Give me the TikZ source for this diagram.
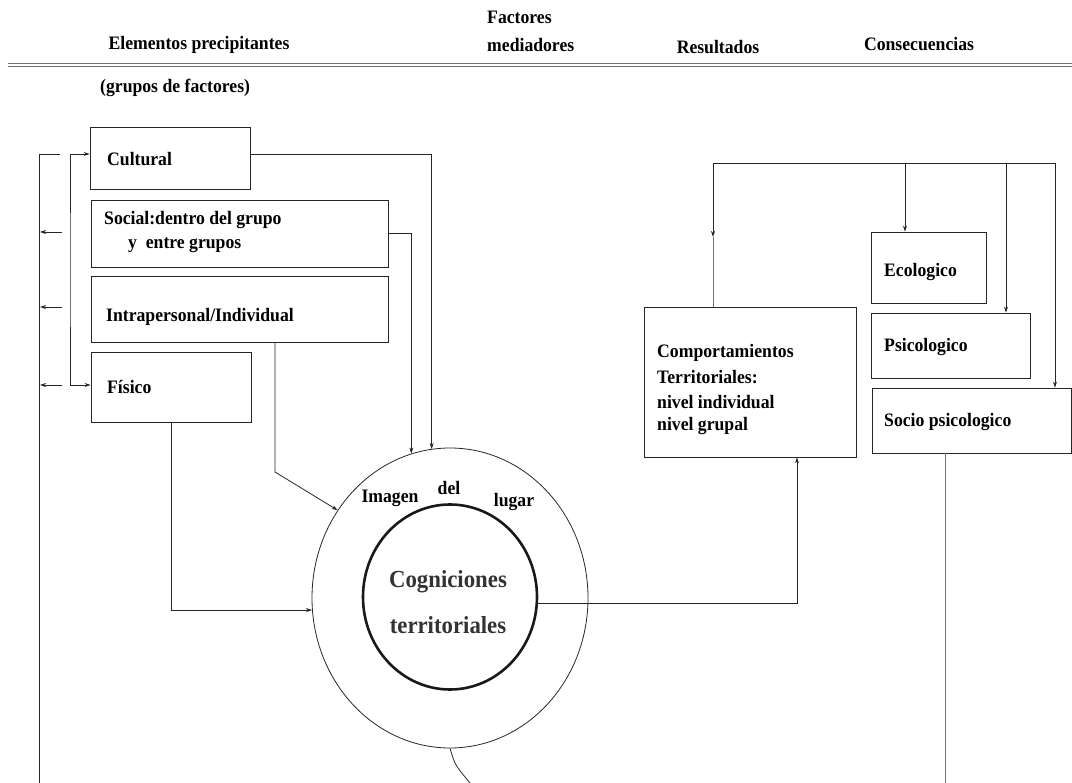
\documentclass[tikz,border=0pt]{standalone}
\usepackage{fontspec}
\setmainfont{Liberation Serif}[FakeStretch=0.93]
\usetikzlibrary{shapes.geometric,arrows.meta}
\begin{document}
\begin{tikzpicture}[x=1pt,y=-1pt,
  txt/.style={inner sep=0pt,font=\fontsize{19}{22}\selectfont\bfseries},
  big/.style={inner sep=0pt,text=black!80,font=\fontsize{24.5}{28}\selectfont\bfseries},
  box/.style={draw=black!85,line width=0.8pt,rectangle,inner sep=0pt},
  conn/.style={draw=black!85,line width=0.8pt},
  arr/.style={conn,-{Stealth[length=6pt,width=4pt]}},
  faint/.style={draw=black!55,line width=0.8pt}]
\useasboundingbox (0,0) rectangle (1072,783);
% header
\node[txt] (h1) at (199,45) {Elementos precipitantes};
\node[txt,anchor=west] (h2a) at (487,17) {Factores};
\node[txt,anchor=west] (h2b) at (487,45) {mediadores};
\node[txt] (h3) at (718,47) {Resultados};
\node[txt] (h4) at (919,44) {Consecuencias};
\coordinate (r1a) at (8,63.5); \coordinate (r1b) at (1072,63.5);
\coordinate (r2a) at (8,66.5); \coordinate (r2b) at (1072,66.5);
\draw[faint] (r1a) -- (r1b);
\draw[faint] (r2a) -- (r2b);
\node[txt,anchor=west] (h5) at (100,88) {(grupos de factores)};
% left boxes
\node[box,minimum width=160pt,minimum height=62pt] (cult) at (170,158) {};
\node[box,minimum width=297pt,minimum height=67pt] (soc) at (239.5,233.5) {};
\node[box,minimum width=297pt,minimum height=66pt] (intra) at (239.5,309) {};
\node[box,minimum width=160pt,minimum height=70pt] (fis) at (171,387) {};
\node[txt,anchor=west] (tcult) at (107,159) {Cultural};
\node[txt,anchor=west] (tsoc1) at (104,220) {Social:dentro del grupo};
\node[txt,anchor=west] (tsoc2) at (128,245) {y\ \ entre grupos};
\node[txt,anchor=west] (tintra) at (106,317) {Intrapersonal/Individual};
\node[txt,anchor=west] (tfis) at (107,387) {Físico};
% right boxes
\node[box,minimum width=212pt,minimum height=150pt] (comp) at (750,382) {};
\node[txt,anchor=west] (tc1) at (657,353) {Comportamientos};
\node[txt,anchor=west] (tc2) at (657,377) {Territoriales:};
\node[txt,anchor=west] (tc3) at (657,402) {nivel individual};
\node[txt,anchor=west] (tc4) at (657,426) {nivel grupal};
\node[box,minimum width=115pt,minimum height=71pt] (eco) at (928.5,267.5) {};
\node[box,minimum width=159pt,minimum height=65pt] (psi) at (950.5,345.5) {};
\node[box,minimum width=199pt,minimum height=65pt] (socio) at (971.5,420.5) {};
\node[txt,anchor=west] (teco) at (884,272) {Ecologico};
\node[txt,anchor=west] (tpsi) at (884,347) {Psicologico};
\node[txt,anchor=west] (tsocio) at (884,422) {Socio psicologico};
% circles
\node[ellipse,draw=black!85,line width=0.8pt,minimum width=276pt,minimum height=300pt,inner sep=0pt] (outer) at (450,598) {};
\node[ellipse,draw=black!90,line width=2.6pt,minimum width=174pt,minimum height=185pt,inner sep=0pt] (inner) at (450,597) {};
\node[big] (cg1) at (448,582) {Cogniciones};
\node[big] (cg2) at (448,625) {territoriales};
\node[txt] (im1) at (390,498) {Imagen};
\node[txt] (im2) at (449,488) {del};
\node[txt] (im3) at (514,502) {lugar};
% left feedback lines
\coordinate (ot) at (60,154);
\coordinate (oc) at (39,154);
\coordinate (ob) at (39,783);
\draw[conn] (ot) -- (oc) -- (ob);
\foreach \y/\n in {232/a,307/b,385/c}{
  \coordinate (s\n) at (62,\y);
  \coordinate (e\n) at (40,\y);
  \draw[arr] (s\n) -- (e\n);
}
\coordinate (ic) at (70,270);
\draw[conn,{Stealth[length=6pt,width=4pt]}-{Stealth[length=6pt,width=4pt]}] ([yshift=4pt]cult.west) -| (ic) |- ([yshift=2pt]fis.west);
% connectors to circle
\draw[arr] ([yshift=4pt]cult.east) -| (outer.97.7);
\draw[arr] (soc.east) -| (outer.105.6);
\coordinate (ik) at (275,472);
\draw[arr] ([xshift=35.5pt]intra.south) -- (ik) -- (outer.142);
\draw[arr] (fis.south) |- (outer.185.4);
% circle to comportamientos
\draw[arr] (inner.356) -| ([xshift=47pt]comp.south);
% comportamientos to consequences
\coordinate (tl) at (713,163);
\coordinate (tr) at (1055,163);
\coordinate (midc) at (713,237);
\draw[arr] (tl) -- (midc);
\draw[faint] (midc) -- ([xshift=-37pt]comp.north);
\draw[conn] (tl) -- (tr);
\coordinate (te) at (905,163);
\coordinate (tp) at (1006,163);
\draw[arr] (te) -- ([xshift=-23.5pt]eco.north);
\draw[arr] (tp) -- ([xshift=55.5pt]psi.north);
\draw[arr] (tr) -- ([xshift=83.5pt]socio.north);
% bottom lines
\coordinate (bc) at (470,783);
\draw[conn] (outer.south) .. controls (455,765) .. (bc);
\coordinate (sb) at (945,783);
\draw[faint] ([xshift=-26.5pt]socio.south) -- (sb);
\end{tikzpicture}
\end{document}
